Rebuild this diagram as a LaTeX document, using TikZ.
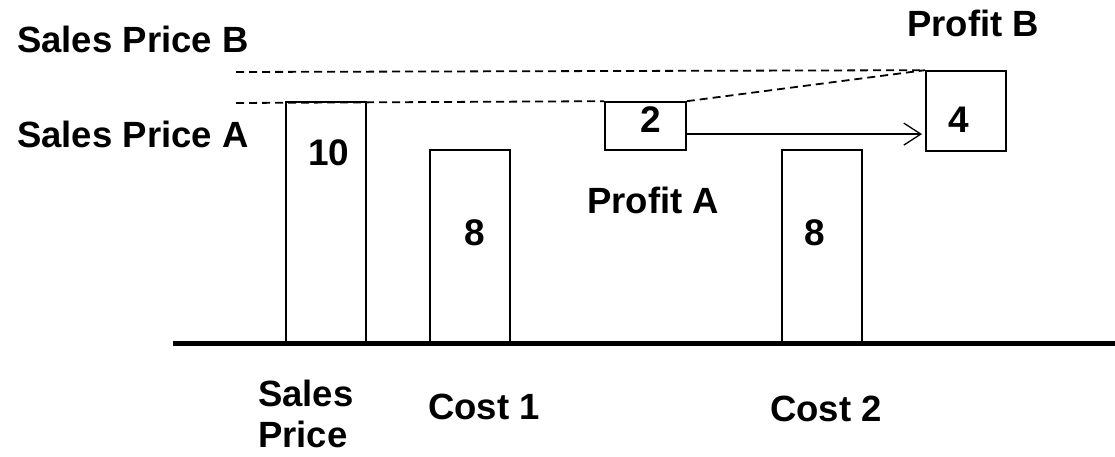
\documentclass[tikz,border=0pt]{standalone}
\usepackage{fontspec}
\setmainfont{Liberation Sans}
\usetikzlibrary{positioning}
\usetikzlibrary{arrows.meta}

\begin{document}
\begin{tikzpicture}[x=1pt,y=-1pt,
    bar/.style={draw, line width=1.8pt, inner sep=0pt, anchor=south west},
    lbl/.style={inner sep=0pt, anchor=base west, font=\fontsize{36.5}{41}\selectfont\bfseries},
    num/.style={inner sep=0pt, anchor=base, font=\fontsize{37}{40}\selectfont\bfseries},
    guide/.style={line width=1.8pt, dash pattern=on 8pt off 5pt}]
  \useasboundingbox (0,0) rectangle (1115,457);
  % axis
  \coordinate (ax0) at (173,343);
  \coordinate (ax1) at (1115,343);
  \draw[line width=5pt] (ax0) -- (ax1);
  % bars and boxes
  \node[bar, minimum width=80pt, minimum height=240pt] (sales) at (285,343) {};
  \node[bar, minimum width=80pt, minimum height=192pt] (cost1) at (429,343) {};
  \node[bar, minimum width=80pt, minimum height=192pt] (cost2) at (781,343) {};
  \node[bar, minimum width=81pt, minimum height=48pt] (profitA) at (604,151) {};
  \node[bar, minimum width=80pt, minimum height=80pt] (profitB) at (925,152) {};
  % numbers
  \node[num] (n10) at (329,165) {10};
  \node[num] (n8a) at (475,245) {8};
  \node[num] (n8b) at (815,245) {8};
  \node[num] (n2) at (651,133) {2};
  \node[num] (n4) at (959,133) {4};
  % labels
  \node[lbl] (spB) at (17,53) {Sales Price B};
  \node[lbl] (spA) at (17,148) {Sales Price A};
  \node[lbl] (pB) at (907,37) {Profit B};
  \node[lbl] (pA) at (587,213) {Profit A};
  \node[lbl, align=left] (sp) at (258,447) {Sales\\Price};
  \node[lbl] (c1) at (428,419) {Cost 1};
  \node[lbl] (c2) at (770,421) {Cost 2};
  % price levels
  \coordinate (levB) at (236,72);
  \coordinate (levA) at (236,103);
  \draw[guide] (levB) -- (profitB.north west);
  \draw[guide] (levA) -- (profitA.north west);
  \draw[guide] (profitA.north east) -- (profitB.north west);
  \draw[line width=1.3pt, -{Straight Barb[length=17pt,width=22pt,line width=1.3pt]}, shorten >=3pt]
    ([yshift=-8pt]profitA.east) -- ([yshift=-8pt]profitA.east -| profitB.west);
\end{tikzpicture}
\end{document}
